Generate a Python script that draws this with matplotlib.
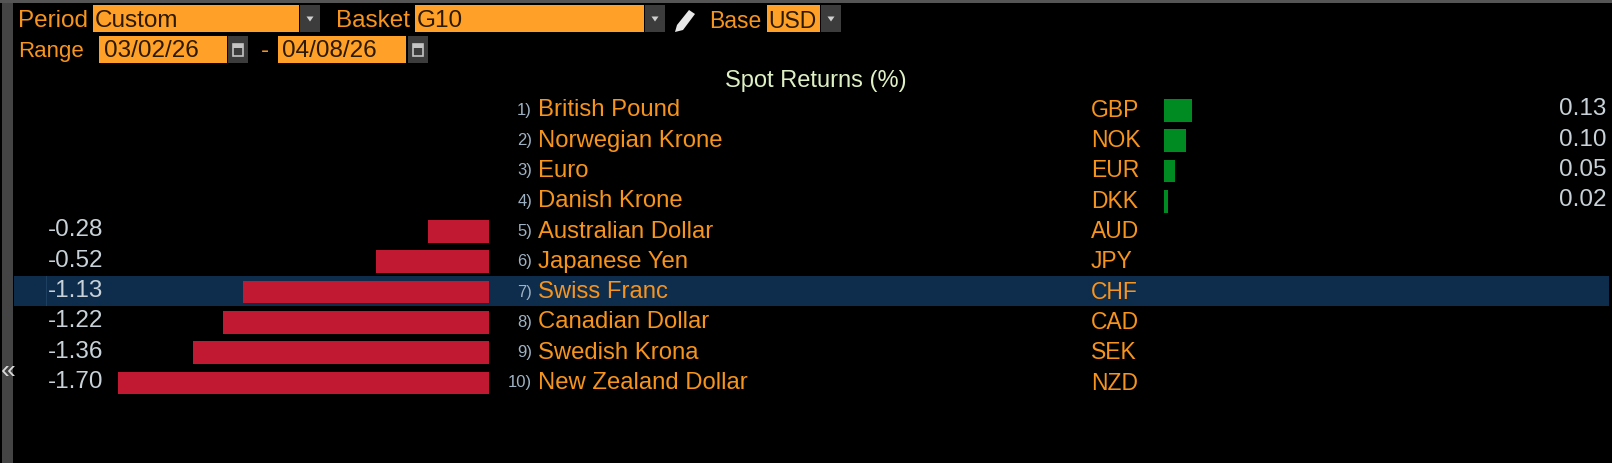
import matplotlib
matplotlib.use('Agg')
import matplotlib.pyplot as plt
from matplotlib.patches import Rectangle, Polygon

W, H = 1612, 463

names = ['British Pound', 'Norwegian Krone', 'Euro', 'Danish Krone', 'Australian Dollar',
         'Japanese Yen', 'Swiss Franc', 'Canadian Dollar', 'Swedish Krona', 'New Zealand Dollar']
codes = ['GBP', 'NOK', 'EUR', 'DKK', 'AUD', 'JPY', 'CHF', 'CAD', 'SEK', 'NZD']
returns = [0.13, 0.10, 0.05, 0.02, -0.28, -0.52, -1.13, -1.22, -1.36, -1.70]
highlight = 'CHF'

plt.rcParams['font.family'] = ['Liberation Sans', 'DejaVu Sans']

ORANGE = '#f7941d'
BOX = '#ffa028'
VALUE = '#c8d2d8'
NUM = '#9fb2c4'
RED = '#c11931'
GREEN = '#008a22'
NAVY = '#0e2c4b'
GREY = '#3c3c3c'

fig = plt.figure(figsize=(W / 100, H / 100), dpi=100, facecolor='black')

# the whole screen in pixels, y going down
bg = fig.add_axes([0, 0, 1, 1], zorder=0)
bg.set_xlim(0, W)
bg.set_ylim(H, 0)
bg.axis('off')


def rect(x0, y0, x1, y1, color):
    bg.add_patch(Rectangle((x0, y0), x1 - x0, y1 - y0, fc=color, ec='none'))


def label(x, y, s, color=ORANGE, size=17.5, ha='left'):
    bg.text(x, y, s, color=color, fontsize=size, ha=ha, va='center')


def dropdown(x0, x1, y0, y1):
    rect(x0, y0, x1, y1, GREY)
    c = (x0 + x1) / 2
    m = (y0 + y1) / 2
    bg.add_patch(Polygon([(c - 3.5, m - 2), (c + 3.5, m - 2), (c, m + 3)], fc='#d0d0d0', ec='none'))


def calendar(x0, x1, y0, y1):
    rect(x0, y0, x1, y1, GREY)
    c = (x0 + x1) / 2
    m = (y0 + y1) / 2
    bg.add_patch(Rectangle((c - 5, m - 6), 10, 12, fc='none', ec='#c4c4c4', lw=1.2))
    rect(c - 5, m - 6, c + 5, m - 2, '#c4c4c4')


# frame
rect(0, 0, W, 3, '#555555')
rect(2, 3, 13, H, '#444444')
label(8, 371, '«', color='#d8d8d8', size=19, ha='center')

# controls
label(18, 21, 'Period')
rect(93, 5, 299, 32, BOX)
label(95, 21, 'Custom', color='#2b1a00')
dropdown(300, 320, 5, 32)
label(336, 21, 'Basket')
rect(415, 5, 644, 32, BOX)
label(417, 21, 'G10', color='#2b1a00')
dropdown(645, 665, 5, 32)
bg.add_patch(Polygon([(689, 10), (695, 14), (683, 30), (675, 32), (677, 25)], fc='#e8e8e8', ec='none'))
label(709, 21, 'Base', size=16.5)
rect(767, 5, 820, 32, BOX)
label(768.5, 21, 'USD', color='#2b1a00', size=16.5)
dropdown(821, 841, 5, 32)

label(18, 51, 'Range', size=16)
rect(99, 36, 227, 63, BOX)
label(104, 51, '03/02/26', color='#2b1a00')
calendar(228, 248, 36, 63)
label(265, 51, '-', ha='center')
rect(278, 36, 406, 63, BOX)
label(282, 51, '04/08/26', color='#2b1a00')
calendar(408, 428, 36, 63)

label(816, 81, 'Spot Returns (%)', color='#dff0c4', ha='center', size=17)

# rows
top, pitch = 110.3, 30.3
for i, (n, c, r) in enumerate(zip(names, codes, returns)):
    y = top + pitch * i
    if c == highlight:
        rect(14, y - 16.5, 1609, y + 13.5, NAVY)
        rect(46, y - 16.5, 47, y + 13.5, '#1d3f60')
    label(532, y, '%d)' % (i + 1), color=NUM, size=12, ha='right')
    label(538, y, n, size=17.2)
    label(1091, y, c, size=16.5)
    if r < 0:
        label(103.5, y - 1, '%.2f' % r, color=VALUE, ha='right')
    else:
        label(1606.5, y - 1, '%.2f' % r, color=VALUE, ha='right')

# bars, in data units on their own axes
ppu = 218.0
ax_top, ax_bottom = top - pitch / 2, top + pitch * 9.5


def bar_axes(x0, x1, xlim):
    ax = fig.add_axes([x0 / W, 1 - ax_bottom / H, (x1 - x0) / W, (ax_bottom - ax_top) / H], zorder=1)
    ax.patch.set_alpha(0)
    ax.axis('off')
    ax.set_xlim(*xlim)
    ax.set_ylim(len(codes) - 0.5, -0.5)
    return ax


ax_neg = bar_axes(14, 489, (-(489 - 14) / ppu, 0))
ax_pos = bar_axes(1164, 1500, (0, (1500 - 1164) / ppu))
for i, r in enumerate(returns):
    if r < 0:
        ax_neg.barh(i, r, height=0.75, color=RED, linewidth=0)
    else:
        ax_pos.barh(i, r, height=0.75, color=GREEN, linewidth=0)

fig.savefig('out.png', dpi=100, facecolor='black')
